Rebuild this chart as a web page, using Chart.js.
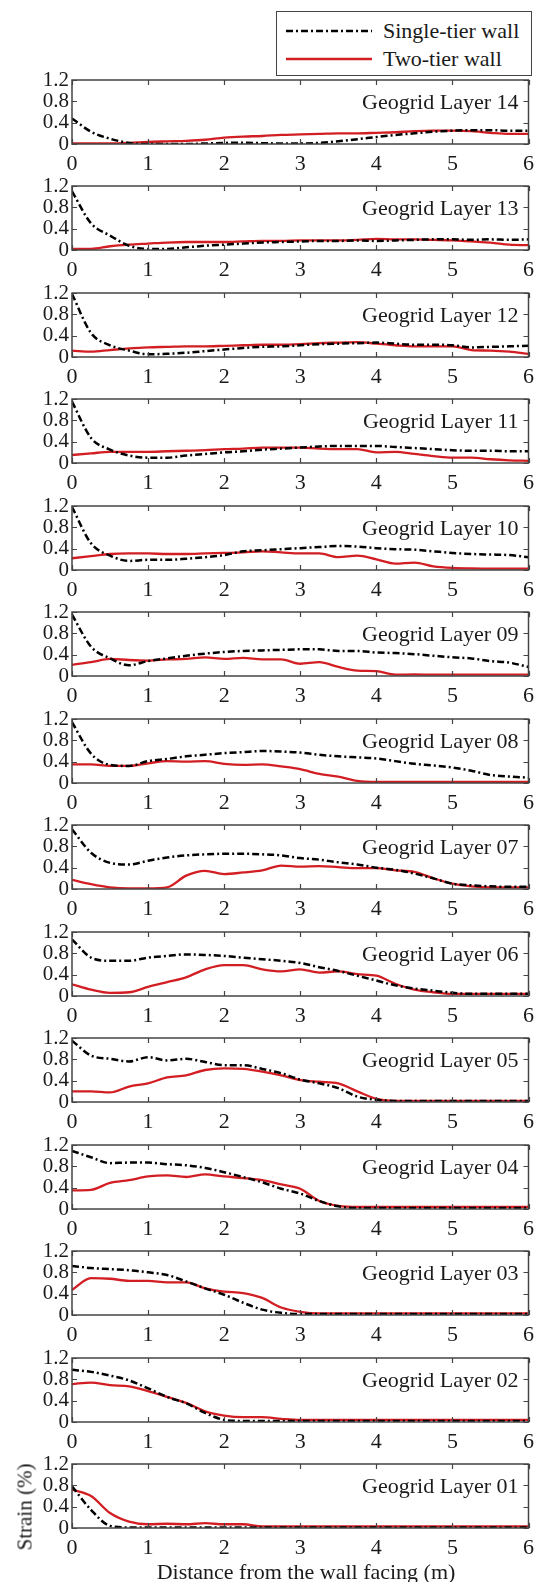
<!DOCTYPE html>
<html>
<head>
<meta charset="utf-8">
<script src="https://cdn.jsdelivr.net/npm/chart.js@4.4.1/dist/chart.umd.min.js"></script>
<style>
  html, body { margin: 0; padding: 0; background: #fff; }
  body { width: 543px; height: 1582px; position: relative; overflow: hidden; font-family: "Liberation Serif", "DejaVu Serif", serif; color: #1a1a1a; }
  canvas.panel { position: absolute; left: 0; }
  .legend { position: absolute; left: 276px; top: 11px; width: 254px; height: 63px; border: 1.5px solid #444; background: #fff; z-index: 5; }
  .legend .row { position: absolute; left: 0; height: 26px; width: 100%; font-size: 22px; line-height: 26px; }
  .legend .row span { position: absolute; left: 106px; top: 0; white-space: nowrap; }
  .legend svg { position: absolute; left: 9px; top: 0; }
  .ylab { position: absolute; left: 25px; top: 1507px; transform: translate(-50%, -50%) rotate(-90deg); font-size: 21px; white-space: nowrap; z-index: 5; }
  .xlab { position: absolute; left: 306px; top: 1572px; transform: translate(-50%, -50%); font-size: 22px; white-space: nowrap; z-index: 5; }
</style>
</head>
<body>
<div class="legend">
  <div class="row" style="top:6px"><svg width="88" height="26"><line x1="0" y1="13" x2="86" y2="13" stroke="#000" stroke-width="2.5" stroke-dasharray="7,3,2,3"/></svg><span>Single-tier wall</span></div>
  <div class="row" style="top:34px"><svg width="88" height="26"><line x1="0" y1="13" x2="86" y2="13" stroke="rgb(210,30,35)" stroke-width="2.5"/></svg><span>Two-tier wall</span></div>
</div>
<div class="ylab">Strain (%)</div>
<div class="xlab">Distance from the wall facing (m)</div>
<script>
// ---- data ----
const X = [0,0.25,0.5,0.75,1,1.25,1.5,1.75,2,2.25,2.5,2.75,3,3.25,3.5,3.75,4,4.25,4.5,4.75,5,5.25,5.5,5.75,6];
const X_TICKS = [0,1,2,3,4,5,6];
const Y_TICKS = [0,0.4,0.8,1.2];
const Y_TICK_LABELS = ['0','0.4','0.8','1.2'];
const LAYERS = ['14','13','12','11','10','09','08','07','06','05','04','03','02','01'];
const SERIES_NAMES = ['Single-tier wall','Two-tier wall'];

const single14 = [0.48,0.23,0.1,0.02,0,0,0,0.01,0.02,0.025,0.015,0.01,0.01,0.02,0.05,0.09,0.13,0.17,0.2,0.23,0.25,0.26,0.26,0.25,0.25];
const two14    = [0.01,0.01,0.01,0.02,0.04,0.05,0.06,0.08,0.12,0.14,0.15,0.17,0.18,0.19,0.2,0.2,0.21,0.22,0.24,0.25,0.25,0.24,0.21,0.19,0.19];
const single13 = [1.1,0.5,0.27,0.08,0.02,0.02,0.05,0.08,0.1,0.12,0.14,0.15,0.16,0.17,0.17,0.18,0.17,0.18,0.19,0.2,0.2,0.19,0.2,0.19,0.2];
const two13    = [0.02,0.02,0.07,0.1,0.12,0.14,0.15,0.15,0.15,0.16,0.17,0.17,0.18,0.18,0.18,0.19,0.21,0.2,0.2,0.19,0.18,0.16,0.14,0.1,0.09];
const single12 = [1.18,0.45,0.22,0.12,0.05,0.06,0.08,0.11,0.14,0.17,0.19,0.2,0.22,0.24,0.25,0.26,0.27,0.25,0.23,0.23,0.22,0.18,0.19,0.2,0.21];
const two12    = [0.12,0.1,0.13,0.16,0.18,0.19,0.2,0.2,0.21,0.22,0.23,0.23,0.24,0.26,0.27,0.28,0.25,0.22,0.2,0.2,0.2,0.13,0.12,0.1,0.06];
const single11 = [1.15,0.47,0.25,0.14,0.1,0.1,0.14,0.17,0.2,0.22,0.25,0.27,0.29,0.31,0.32,0.32,0.32,0.3,0.28,0.26,0.24,0.23,0.23,0.22,0.22];
const two11    = [0.15,0.18,0.21,0.21,0.21,0.22,0.23,0.24,0.26,0.27,0.29,0.29,0.29,0.27,0.26,0.26,0.2,0.21,0.17,0.13,0.1,0.1,0.07,0.05,0.04];
const single10 = [1.18,0.5,0.27,0.17,0.19,0.19,0.21,0.24,0.28,0.35,0.37,0.39,0.41,0.43,0.45,0.44,0.41,0.39,0.38,0.35,0.32,0.3,0.29,0.28,0.24];
const two10    = [0.22,0.26,0.3,0.31,0.31,0.3,0.3,0.31,0.32,0.33,0.35,0.33,0.31,0.31,0.24,0.27,0.2,0.12,0.14,0.07,0.04,0.03,0.025,0.025,0.025];
const single09 = [1.15,0.55,0.33,0.2,0.28,0.33,0.38,0.42,0.45,0.47,0.48,0.49,0.5,0.5,0.47,0.47,0.44,0.43,0.41,0.38,0.35,0.33,0.28,0.25,0.17];
const two09    = [0.21,0.26,0.32,0.3,0.29,0.31,0.32,0.35,0.32,0.34,0.31,0.31,0.23,0.26,0.17,0.1,0.09,0.025,0.03,0.025,0.025,0.025,0.025,0.025,0.025];
const single08 = [1.14,0.55,0.34,0.32,0.41,0.45,0.5,0.53,0.56,0.58,0.6,0.59,0.57,0.53,0.5,0.48,0.46,0.41,0.36,0.33,0.29,0.23,0.15,0.12,0.1];
const two08    = [0.35,0.35,0.32,0.32,0.37,0.41,0.4,0.41,0.36,0.34,0.35,0.31,0.26,0.17,0.12,0.04,0.02,0.02,0.02,0.02,0.02,0.02,0.02,0.02,0.02];
const single07 = [1.12,0.68,0.49,0.46,0.53,0.59,0.63,0.65,0.66,0.66,0.65,0.63,0.58,0.55,0.5,0.46,0.4,0.36,0.29,0.2,0.1,0.07,0.05,0.04,0.04];
const two07    = [0.17,0.09,0.03,0.01,0.01,0.03,0.25,0.34,0.28,0.31,0.35,0.44,0.42,0.43,0.41,0.39,0.39,0.35,0.32,0.2,0.1,0.05,0.03,0.03,0.03];
const single06 = [1.06,0.72,0.66,0.66,0.72,0.75,0.78,0.77,0.75,0.72,0.69,0.66,0.62,0.54,0.47,0.38,0.29,0.2,0.14,0.1,0.06,0.04,0.04,0.04,0.04];
const two06    = [0.22,0.12,0.06,0.07,0.17,0.26,0.35,0.5,0.58,0.58,0.5,0.46,0.5,0.44,0.46,0.41,0.38,0.23,0.12,0.07,0.04,0.04,0.04,0.04,0.04];
const single05 = [1.15,0.87,0.81,0.76,0.84,0.78,0.81,0.75,0.69,0.69,0.62,0.54,0.42,0.35,0.26,0.1,0.04,0.02,0.02,0.02,0.02,0.02,0.02,0.02,0.02];
const two05    = [0.2,0.2,0.18,0.29,0.35,0.46,0.5,0.6,0.63,0.62,0.57,0.5,0.41,0.38,0.35,0.2,0.06,0.02,0.02,0.02,0.02,0.02,0.02,0.02,0.02];
const single04 = [1.09,0.97,0.86,0.87,0.87,0.84,0.82,0.77,0.69,0.6,0.5,0.38,0.29,0.15,0.05,0.02,0.02,0.02,0.02,0.02,0.02,0.02,0.02,0.02,0.02];
const two04    = [0.35,0.36,0.49,0.54,0.61,0.63,0.6,0.65,0.61,0.58,0.54,0.46,0.38,0.15,0.06,0.04,0.04,0.04,0.04,0.04,0.04,0.04,0.04,0.04,0.04];
const single03 = [0.92,0.88,0.86,0.84,0.8,0.75,0.63,0.5,0.38,0.23,0.1,0.04,0.02,0.02,0.02,0.02,0.02,0.02,0.02,0.02,0.02,0.02,0.02,0.02,0.02];
const two03    = [0.47,0.69,0.68,0.64,0.64,0.61,0.61,0.5,0.44,0.41,0.32,0.14,0.06,0.03,0.03,0.03,0.03,0.03,0.03,0.03,0.03,0.03,0.03,0.03,0.03];
const single02 = [0.98,0.94,0.87,0.78,0.63,0.47,0.35,0.17,0.04,0.02,0.02,0.02,0.02,0.02,0.02,0.02,0.02,0.02,0.02,0.02,0.02,0.02,0.02,0.02,0.02];
const two02    = [0.71,0.74,0.69,0.67,0.58,0.47,0.36,0.2,0.12,0.09,0.09,0.06,0.04,0.04,0.04,0.04,0.04,0.04,0.04,0.04,0.04,0.04,0.04,0.04,0.04];
const single01 = [0.78,0.34,0.04,0.01,0.01,0.01,0.01,0.01,0.01,0.01,0.01,0.01,0.01,0.01,0.01,0.01,0.01,0.01,0.01,0.01,0.01,0.01,0.01,0.01,0.01];
const two01    = [0.72,0.6,0.28,0.12,0.07,0.08,0.07,0.09,0.07,0.07,0.03,0.03,0.03,0.03,0.03,0.03,0.03,0.03,0.03,0.03,0.03,0.03,0.03,0.03,0.03];

const SINGLE = [single14,single13,single12,single11,single10,single09,single08,single07,single06,single05,single04,single03,single02,single01];
const TWO    = [two14,two13,two12,two11,two10,two09,two08,two07,two06,two05,two04,two03,two02,two01];

// ---- layout ----
const W = 543, AREA_LEFT = 72, AREA_RIGHT = 532, AREA_H = 64, PAD_TOP = 14, XAXIS_H = 35;
const FIRST_TOP = 79.5, PERIOD = 106.5;
const FONT = "'Liberation Serif', 'Times New Roman', serif";
const TEXT = '#1a1a1a';
const FRAME = '#444';

const framePlugin = {
  id: 'frame',
  afterDatasetsDraw(chart, args, opts) {
    const {ctx, chartArea: a, scales} = chart;
    ctx.save();
    ctx.strokeStyle = FRAME;
    ctx.lineWidth = 1.5;
    ctx.strokeRect(a.left, a.top, a.right - a.left, a.bottom - a.top);
    const tl = 5;
    ctx.beginPath();
    scales.x.ticks.forEach(t => {
      const px = Math.round(scales.x.getPixelForValue(t.value)) + 0.5;
      ctx.moveTo(px, a.bottom); ctx.lineTo(px, a.bottom - tl);
      ctx.moveTo(px, a.top); ctx.lineTo(px, a.top + tl);
    });
    scales.y.ticks.forEach(t => {
      const py = Math.round(scales.y.getPixelForValue(t.value)) + 0.5;
      ctx.moveTo(a.left, py); ctx.lineTo(a.left + tl, py);
      ctx.moveTo(a.right, py); ctx.lineTo(a.right - tl, py);
    });
    ctx.lineWidth = 1.2;
    ctx.stroke();
    ctx.fillStyle = TEXT;
    ctx.font = "22px " + FONT;
    ctx.textAlign = 'right';
    ctx.textBaseline = 'middle';
    ctx.fillText(opts.label, a.right - 10, a.top + 23);
    ctx.restore();
  }
};

LAYERS.forEach((layer, i) => {
  const c = document.createElement('canvas');
  c.className = 'panel';
  const H = PAD_TOP + AREA_H + XAXIS_H;
  c.width = W; c.height = H;
  c.style.width = W + 'px'; c.style.height = H + 'px';
  c.style.top = (Math.round(FIRST_TOP + PERIOD * i) - PAD_TOP) + 'px';
  document.body.appendChild(c);

  new Chart(c.getContext('2d'), {
    type: 'line',
    data: {
      datasets: [
        {
          label: SERIES_NAMES[0],
          data: X.map((x, k) => ({x, y: SINGLE[i][k]})),
          borderColor: '#000',
          borderWidth: 2.5,
          borderDash: [7, 3, 2, 3],
          pointRadius: 0,
          cubicInterpolationMode: 'monotone',
          fill: false
        },
        {
          label: SERIES_NAMES[1],
          data: X.map((x, k) => ({x, y: TWO[i][k]})),
          borderColor: 'rgb(210,30,35)',
          borderWidth: 2.3,
          pointRadius: 0,
          cubicInterpolationMode: 'monotone',
          fill: false
        }
      ]
    },
    options: {
      responsive: false,
      animation: false,
      devicePixelRatio: 1,
      layout: { padding: { top: PAD_TOP, right: W - AREA_RIGHT, left: 0, bottom: 0 } },
      plugins: {
        legend: { display: false },
        tooltip: { enabled: false },
        frame: { label: 'Geogrid Layer ' + layer }
      },
      scales: {
        x: {
          type: 'linear', min: 0, max: 6,
          afterBuildTicks: s => { s.ticks = X_TICKS.map(v => ({value: v})); },
          afterFit: s => { s.height = XAXIS_H; },
          grid: { display: false, drawTicks: false },
          border: { display: false },
          ticks: { color: TEXT, font: { family: FONT, size: 22, lineHeight: 1 }, padding: 9, maxRotation: 0, autoSkip: false, callback: v => String(v) }
        },
        y: {
          type: 'linear', min: 0, max: 1.2,
          afterBuildTicks: s => { s.ticks = Y_TICKS.map(v => ({value: v})); },
          afterFit: s => { s.width = AREA_LEFT; },
          grid: { display: false, drawTicks: false },
          border: { display: false },
          ticks: { color: TEXT, font: { family: FONT, size: 21, lineHeight: 0.8 }, padding: 3, autoSkip: false,
                   callback: (v) => Y_TICK_LABELS[Y_TICKS.indexOf(v)] ?? String(v) }
        }
      }
    },
    plugins: [framePlugin]
  });
});
</script>
</body>
</html>
